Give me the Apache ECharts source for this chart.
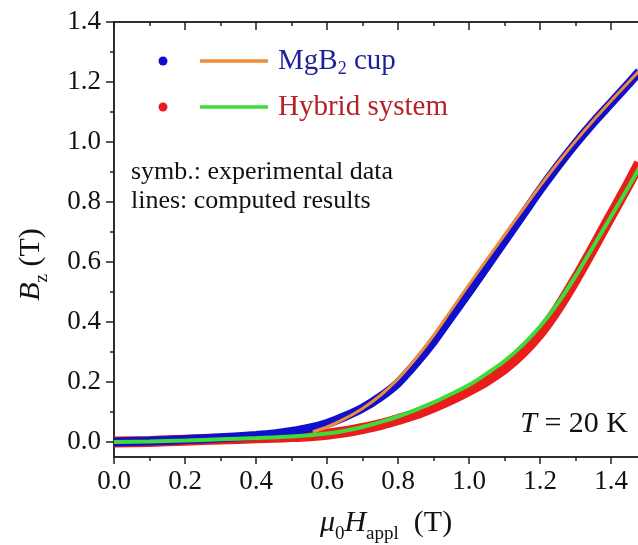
<!DOCTYPE html>
<html>
<head>
<meta charset="utf-8">
<script src="https://cdn.jsdelivr.net/npm/echarts@6/dist/echarts.min.js"></script>
<style>
  html, body { margin: 0; padding: 0; background: #fff; }
  #chart { width: 638px; height: 545px; }
</style>
</head>
<body>
<div id="chart"></div>
<script>
// applied field (T) for the measured curves
const fieldExp = [0, 0.1, 0.2, 0.3, 0.4, 0.45, 0.5, 0.55, 0.6, 0.65, 0.7, 0.75, 0.8, 0.85, 0.9,
  0.95, 1.0, 1.05, 1.1, 1.15, 1.2, 1.25, 1.3, 1.35, 1.4, 1.45, 1.48];
const mgb2Exp = [0, 0.003, 0.008, 0.014, 0.022, 0.027, 0.035, 0.046, 0.062, 0.085, 0.113, 0.15, 0.197, 0.262, 0.335,
  0.418, 0.5, 0.585, 0.67, 0.755, 0.84, 0.92, 0.995, 1.065, 1.13, 1.195, 1.235];
const hybridExp = [0, 0.002, 0.006, 0.01, 0.014, 0.016, 0.018, 0.021, 0.026, 0.034, 0.045, 0.058, 0.075, 0.093, 0.116,
  0.142, 0.172, 0.205, 0.245, 0.297, 0.362, 0.445, 0.542, 0.647, 0.755, 0.862, 0.93];

// computed results
const fieldCalcMgB2 = [0.56, 0.6, 0.65, 0.7, 0.75, 0.8, 0.85, 0.9, 0.95, 1.0, 1.05, 1.1, 1.15, 1.2, 1.25,
  1.3, 1.35, 1.4, 1.45, 1.48];
const mgb2Calc = [0.034, 0.05, 0.078, 0.112, 0.155, 0.21, 0.278, 0.355, 0.44, 0.525, 0.608, 0.69, 0.772, 0.853, 0.93,
  1.003, 1.072, 1.137, 1.2, 1.238];
const fieldCalcHybrid = [0, 0.1, 0.2, 0.3, 0.4, 0.5, 0.6, 0.65, 0.7, 0.75, 0.8, 0.85, 0.9, 0.95, 1.0, 1.05,
  1.1, 1.15, 1.2, 1.25, 1.3, 1.35, 1.4, 1.45, 1.48];
const hybridCalc = [0, 0.002, 0.005, 0.009, 0.013, 0.018, 0.028, 0.037, 0.05, 0.066, 0.085, 0.107, 0.132, 0.16, 0.19, 0.228,
  0.27, 0.322, 0.385, 0.462, 0.553, 0.652, 0.752, 0.852, 0.915];

// axis ticks
const xMajor = [0, 0.2, 0.4, 0.6, 0.8, 1.0, 1.2, 1.4];
const xMinor = [0.1, 0.3, 0.5, 0.7, 0.9, 1.1, 1.3];
const yMajor = [0, 0.2, 0.4, 0.6, 0.8, 1.0, 1.2, 1.4];
const yMinor = [0.1, 0.3, 0.5, 0.7, 0.9, 1.1, 1.3];
const xMin = 0, xMax = 1.476, yMin = -0.05, yMax = 1.4;

const FONT = 'Liberation Serif';
const AXIS_COLOR = '#222';
const BLUE = '#1010cc', RED = '#ea1c1c', ORANGE = '#ef8c3a', GREEN = '#3ddc3a';

const pair = (xs, ys) => xs.map((x, i) => [x, ys[i]]);

const nameRich = {
  n: { fontFamily: FONT, fontSize: 30, lineHeight: 42, verticalAlign: 'middle', color: '#111' },
  i: { fontFamily: FONT, fontSize: 30, lineHeight: 42, verticalAlign: 'middle', fontStyle: 'italic', color: '#111' },
  s: { fontFamily: FONT, fontSize: 19, lineHeight: 19, verticalAlign: 'bottom', color: '#111' }
};

function xAxisCfg(pos, ticks, len, withLabels) {
  const ax = {
    type: 'value', min: xMin, max: xMax, position: pos,
    axisLine: { show: true, onZero: false, lineStyle: { color: AXIS_COLOR, width: 1.5 } },
    axisTick: { show: true, customValues: ticks, length: len, inside: pos === 'top',
      lineStyle: { color: AXIS_COLOR, width: 1.5 } },
    axisLabel: { show: withLabels, customValues: ticks, formatter: v => v.toFixed(1),
      margin: 11, fontFamily: FONT, fontSize: 27, color: '#111' },
    splitLine: { show: false }
  };
  if (withLabels) {
    ax.name = '{i|μ}{s|0}{i|H}{s|appl}{n|  (T)}';
    ax.nameLocation = 'middle';
    ax.nameGap = 45;
    ax.nameTextStyle = { rich: nameRich, padding: [0, 0, 0, 20] };
  }
  return ax;
}

function yAxisCfg(ticks, len, withLabels) {
  const ax = {
    type: 'value', min: yMin, max: yMax, position: 'left',
    axisLine: { show: true, onZero: false, lineStyle: { color: AXIS_COLOR, width: 1.5 } },
    axisTick: { show: true, customValues: ticks, length: len, lineStyle: { color: AXIS_COLOR, width: 1.5 } },
    axisLabel: { show: withLabels, customValues: ticks, formatter: v => v.toFixed(1),
      margin: 13, fontFamily: FONT, fontSize: 27, color: '#111' },
    splitLine: { show: false }
  };
  if (withLabels) {
    ax.name = '{i|B}{s|z}{n| (T)}';
    ax.nameLocation = 'middle';
    ax.nameRotate = 90;
    ax.nameGap = 62;
    ax.nameTextStyle = { rich: nameRich, padding: [0, 50, 0, 0] };
  }
  return ax;
}

const chart = echarts.init(document.getElementById('chart'), null, { renderer: 'canvas' });

chart.setOption({
  animation: false,
  backgroundColor: '#fff',
  grid: { left: 114, top: 22, right: 0, bottom: 88, containLabel: false, outerBoundsMode: 'none' },
  xAxis: [
    xAxisCfg('bottom', xMajor, 7, true),
    xAxisCfg('bottom', xMinor, 4, false),
    xAxisCfg('top', xMajor, 8, false),
    xAxisCfg('top', xMinor, 4, false)
  ],
  yAxis: [
    yAxisCfg(yMajor, 8, true),
    yAxisCfg(yMinor, 4, false)
  ],
  series: [
    {
      name: 'Hybrid system (exp.)', type: 'line', data: pair(fieldExp, hybridExp),
      showSymbol: false, smooth: 0.3, lineStyle: { color: RED, width: 11 }, z: 2
    },
    {
      name: 'MgB2 cup (exp.)', type: 'line', data: pair(fieldExp, mgb2Exp),
      showSymbol: false, smooth: 0.3, lineStyle: { color: BLUE, width: 9 }, z: 3
    },
    {
      name: 'MgB2 cup (calc.)', type: 'line', data: pair(fieldCalcMgB2, mgb2Calc),
      showSymbol: false, smooth: 0.3, lineStyle: { color: ORANGE, width: 3 }, z: 4
    },
    {
      name: 'Hybrid system (calc.)', type: 'line', data: pair(fieldCalcHybrid, hybridCalc),
      showSymbol: false, smooth: 0.3, lineStyle: { color: GREEN, width: 4 }, z: 5
    }
  ],
  graphic: [
    { type: 'circle', shape: { cx: 163, cy: 61, r: 4.5 }, style: { fill: BLUE } },
    { type: 'line', shape: { x1: 200, y1: 61, x2: 268, y2: 61 }, style: { stroke: ORANGE, lineWidth: 3.5 } },
    {
      type: 'text', x: 278, y: 61,
      style: {
        text: '{n|MgB}{s|2}{n| cup}', fill: '#1f1f9c', verticalAlign: 'middle', align: 'left',
        rich: {
          n: { fontFamily: FONT, fontSize: 29, lineHeight: 34, verticalAlign: 'middle', fill: '#1f1f9c' },
          s: { fontFamily: FONT, fontSize: 18, lineHeight: 18, verticalAlign: 'bottom', fill: '#1f1f9c' }
        }
      }
    },
    { type: 'circle', shape: { cx: 163, cy: 107, r: 4.5 }, style: { fill: RED } },
    { type: 'line', shape: { x1: 200, y1: 107, x2: 268, y2: 107 }, style: { stroke: GREEN, lineWidth: 3.5 } },
    {
      type: 'text', x: 278, y: 107,
      style: { text: 'Hybrid system', fill: '#b5222a', fontFamily: FONT, fontSize: 29, verticalAlign: 'middle' }
    },
    {
      type: 'text', x: 131, y: 172,
      style: { text: 'symb.: experimental data', fill: '#111', fontFamily: FONT, fontSize: 26, verticalAlign: 'middle' }
    },
    {
      type: 'text', x: 131, y: 201,
      style: { text: 'lines: computed results', fill: '#111', fontFamily: FONT, fontSize: 26, verticalAlign: 'middle' }
    },
    {
      type: 'text', x: 628, y: 424,
      style: {
        text: '{i|T} = 20 K', fill: '#111', align: 'right', verticalAlign: 'middle',
        fontFamily: FONT, fontSize: 30,
        rich: {
          i: { fontFamily: FONT, fontSize: 30, fontStyle: 'italic', fill: '#111' }
        }
      }
    }
  ]
});
</script>
</body>
</html>
